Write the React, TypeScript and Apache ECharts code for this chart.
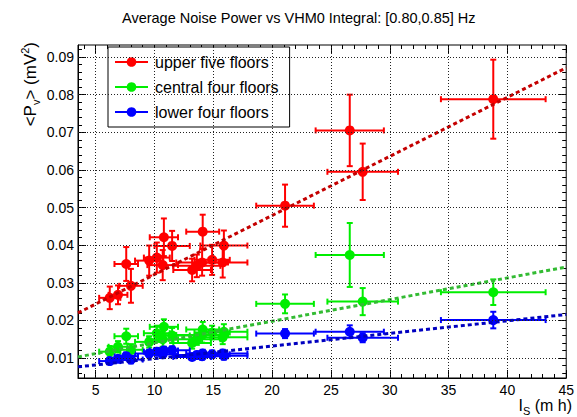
import React, { useEffect, useRef } from "react";
import * as echarts from "echarts";

// Shared I_s values (m h) and their half-widths
const isValues = [6.2, 6.9, 8.0, 7.6, 9.55, 10.2, 10.7, 10.8, 11.5, 13.2, 13.6, 14.05, 14.1, 14.9, 15.8, 15.9, 21.1, 26.6, 27.7, 38.8];
const isErrors = [0.9, 0.8, 1.0, 1.0, 1.2, 1.1, 1.3, 1.2, 1.5, 1.6, 2.0, 2.2, 1.4, 1.5, 2.1, 2.0, 2.45, 2.9, 3.0, 4.45];

const upperValues = [0.026, 0.0268, 0.0292, 0.035, 0.0359, 0.0367, 0.0347, 0.0421, 0.0398, 0.0334, 0.0345, 0.0354, 0.0436, 0.0361, 0.0354, 0.0399, 0.0505, 0.0705, 0.0595, 0.0788];
const upperErrors = [0.003, 0.0025, 0.0045, 0.0045, 0.004, 0.004, 0.004, 0.005, 0.004, 0.003, 0.003, 0.0035, 0.0045, 0.004, 0.004, 0.004, 0.0056, 0.0095, 0.0075, 0.0105];

const centralValues = [0.0117, 0.013, 0.0122, 0.0158, 0.0143, 0.0166, 0.015, 0.0183, 0.016, 0.014, 0.015, 0.0161, 0.0176, 0.0168, 0.0155, 0.017, 0.0244, 0.0374, 0.025, 0.0275];
const centralErrors = [0.0015, 0.0015, 0.0015, 0.002, 0.0015, 0.002, 0.002, 0.002, 0.002, 0.0015, 0.0015, 0.002, 0.002, 0.0018, 0.0018, 0.002, 0.0025, 0.0085, 0.0036, 0.0034];

const lowerValues = [0.0092, 0.0098, 0.0096, 0.0105, 0.0112, 0.0117, 0.011, 0.012, 0.0121, 0.0103, 0.0108, 0.0105, 0.0112, 0.011, 0.0112, 0.0106, 0.0165, 0.017, 0.0154, 0.0201];
const lowerErrors = [0.0008, 0.0008, 0.001, 0.001, 0.001, 0.001, 0.001, 0.001, 0.001, 0.0008, 0.0009, 0.0009, 0.001, 0.001, 0.001, 0.001, 0.0012, 0.0017, 0.0012, 0.0022];

// Linear fits: y = intercept + slope * x
const fitNames = ["upper fit", "central fit", "lower fit"];
const fitIntercepts = [0.0165, 0.0083, 0.0065];
const fitSlopes = [0.00157, 0.000575, 0.000335];

const seriesNames = ["upper five floors", "central four floors", "lower four floors"];

const xMajorTicks = [5, 10, 15, 20, 25, 30, 35, 40, 45];
const xMinorTicks = [4, 6, 7, 8, 9, 11, 12, 13, 14, 16, 17, 18, 19, 21, 22, 23, 24, 26, 27, 28, 29, 31, 32, 33, 34, 36, 37, 38, 39, 41, 42, 43, 44];
const yMajorTicks = [0.01, 0.02, 0.03, 0.04, 0.05, 0.06, 0.07, 0.08, 0.09];
const yMinorTicks = [0.006, 0.008, 0.012, 0.014, 0.016, 0.018, 0.022, 0.024, 0.026, 0.028, 0.032, 0.034, 0.036, 0.038, 0.042, 0.044, 0.046, 0.048, 0.052, 0.054, 0.056, 0.058, 0.062, 0.064, 0.066, 0.068, 0.072, 0.074, 0.076, 0.078, 0.082, 0.084, 0.086, 0.088, 0.092];

const X_MIN = 3.5;
const X_MAX = 45;
const Y_MIN = 0.0047;
const Y_MAX = 0.0932;

const markerColors = ["#ff0000", "#00ee00", "#0000ff"];
const fitColors = ["#c40000", "#33bb33", "#0000c0"];
const FONT = "Liberation Sans, Arial, Helvetica, sans-serif";

function errRender(color: string) {
  return (params: any, api: any) => {
    const x = api.value(0);
    const y = api.value(1);
    const ex = api.value(2);
    const ey = api.value(3);
    const l = api.coord([x - ex, y]);
    const r = api.coord([x + ex, y]);
    const b = api.coord([x, y - ey]);
    const t = api.coord([x, y + ey]);
    const c = 3;
    const style = { stroke: color, lineWidth: 2 };
    const mk = (x1: number, y1: number, x2: number, y2: number) => ({
      type: "line",
      shape: { x1, y1, x2, y2 },
      style,
    });
    return {
      type: "group",
      children: [
        mk(l[0], l[1], r[0], r[1]),
        mk(b[0], b[1], t[0], t[1]),
        mk(l[0], l[1] - c, l[0], l[1] + c),
        mk(r[0], r[1] - c, r[0], r[1] + c),
        mk(b[0] - c, b[1], b[0] + c, b[1]),
        mk(t[0] - c, t[1], t[0] + c, t[1]),
      ],
    };
  };
}

export default function App() {
  const ref = useRef<HTMLDivElement>(null);

  useEffect(() => {
    if (!ref.current) return;
    const chart = echarts.init(ref.current, null, { renderer: "svg" });

    const groups = [
      { y: upperValues, e: upperErrors },
      { y: centralValues, e: centralErrors },
      { y: lowerValues, e: lowerErrors },
    ];

    const series: any[] = [];

    // grid lines through the axis scales
    series.push({
      type: "line",
      name: "grid",
      data: [],
      z: 0,
      silent: true,
      markLine: {
        silent: true,
        symbol: "none",
        label: { show: false },
        lineStyle: { type: [1, 2], color: "#222", width: 1 },
        data: [
          ...xMajorTicks.filter((v) => v < X_MAX).map((v) => ({ xAxis: v })),
          ...yMajorTicks.map((v) => ({ yAxis: v })),
        ],
      },
    });

    groups.forEach((g, i) => {
      series.push({
        type: "custom",
        name: seriesNames[i] + " err",
        renderItem: errRender(markerColors[i]),
        encode: { x: 0, y: 1 },
        data: isValues.map((x, k) => [x, g.y[k], isErrors[k], g.e[k]]),
        z: 2,
        clip: true,
      });
    });

    groups.forEach((g, i) => {
      series.push({
        type: "line",
        name: seriesNames[i],
        data: isValues.map((x, k) => [x, g.y[k]]),
        symbol: "circle",
        symbolSize: 10,
        showSymbol: true,
        lineStyle: { width: 0 },
        itemStyle: { color: markerColors[i] },
        color: markerColors[i],
        z: 3,
      });
    });

    fitIntercepts.forEach((a, i) => {
      series.push({
        type: "line",
        name: fitNames[i],
        data: [
          [X_MIN, a + fitSlopes[i] * X_MIN],
          [X_MAX, a + fitSlopes[i] * X_MAX],
        ],
        symbol: "none",
        lineStyle: { color: fitColors[i], width: 3, type: [4, 3] },
        z: 4,
      });
    });

    const xBase = {
      type: "value",
      min: X_MIN,
      max: X_MAX,
      splitLine: { show: false },
    };
    const yBase = {
      type: "value",
      min: Y_MIN,
      max: Y_MAX,
      splitLine: { show: false },
    };

    chart.setOption({
      animation: false,
      backgroundColor: "#ffffff",
      title: {
        text: "Average Noise Power vs VHM0 Integral: [0.80,0.85] Hz",
        left: 117,
        top: 5,
        textStyle: { fontFamily: FONT, fontSize: 14.5, fontWeight: "normal", color: "#000" },
      },
      legend: {
        data: seriesNames,
        orient: "vertical",
        left: 108,
        top: 47,
        padding: [7, 11, 7, 6],
        itemWidth: 33,
        itemHeight: 12,
        itemGap: 9,
        backgroundColor: "#ffffff",
        borderColor: "#000",
        borderWidth: 1,
        lineStyle: { width: 2 },
        textStyle: { fontFamily: FONT, fontSize: 16, color: "#000", padding: [0, 0, 0, 2] },
      },
      grid: {
        left: 78,
        right: 5,
        top: 45,
        bottom: 39,
        show: true,
        borderColor: "#000",
        borderWidth: 1,
        backgroundColor: "transparent",
      },
      xAxis: [
        {
          ...xBase,
          position: "bottom",
          axisLine: { show: true, lineStyle: { color: "#000", width: 1 } },
          axisTick: { show: true, inside: true, length: 8, customValues: xMajorTicks, lineStyle: { color: "#000" } },
          axisLabel: {
            customValues: xMajorTicks,
            fontFamily: FONT,
            fontSize: 14,
            color: "#000",
            margin: 5,
            showMaxLabel: true,
            hideOverlap: false,
          },
        },
        {
          ...xBase,
          position: "bottom",
          axisLine: { show: false },
          axisTick: { show: true, inside: true, length: 4, customValues: xMinorTicks, lineStyle: { color: "#000" } },
          axisLabel: { show: false },
        },
        {
          ...xBase,
          position: "top",
          axisLine: { show: false },
          axisTick: { show: true, inside: true, length: 8, customValues: xMajorTicks, lineStyle: { color: "#000" } },
          axisLabel: { show: false },
        },
        {
          ...xBase,
          position: "top",
          axisLine: { show: false },
          axisTick: { show: true, inside: true, length: 4, customValues: xMinorTicks, lineStyle: { color: "#000" } },
          axisLabel: { show: false },
        },
      ],
      yAxis: [
        {
          ...yBase,
          position: "left",
          axisLine: { show: true, lineStyle: { color: "#000", width: 1 } },
          axisTick: { show: true, inside: true, length: 8, customValues: yMajorTicks, lineStyle: { color: "#000" } },
          axisLabel: {
            customValues: yMajorTicks,
            formatter: (v: number) => v.toFixed(2),
            fontFamily: FONT,
            fontSize: 14,
            color: "#000",
            margin: 4,
          },
        },
        {
          ...yBase,
          position: "left",
          axisLine: { show: false },
          axisTick: { show: true, inside: true, length: 4, customValues: yMinorTicks, lineStyle: { color: "#000" } },
          axisLabel: { show: false },
        },
        {
          ...yBase,
          position: "right",
          axisLine: { show: false },
          axisTick: { show: true, inside: true, length: 8, customValues: yMajorTicks, lineStyle: { color: "#000" } },
          axisLabel: { show: false },
        },
        {
          ...yBase,
          position: "right",
          axisLine: { show: false },
          axisTick: { show: true, inside: true, length: 4, customValues: yMinorTicks, lineStyle: { color: "#000" } },
          axisLabel: { show: false },
        },
      ],
      graphic: [
        {
          type: "text",
          x: 30,
          y: 42,
          rotation: Math.PI / 2,
          style: {
            text: "<P{sub|v}> (mV{sup|2})",
            fontFamily: FONT,
            fontSize: 17,
            fill: "#000",
            align: "right",
            verticalAlign: "middle",
            rich: {
              sub: { fontFamily: FONT, fontSize: 11, padding: [11, 0, 0, 0], fill: "#000" },
              sup: { fontFamily: FONT, fontSize: 11, padding: [0, 0, 10, 0], fill: "#000" },
            },
          },
        },
        {
          type: "text",
          x: 572,
          y: 405,
          style: {
            text: "I{sub|S} (m h)",
            fontFamily: FONT,
            fontSize: 16,
            fill: "#000",
            align: "right",
            verticalAlign: "middle",
            rich: {
              sub: { fontFamily: FONT, fontSize: 11, padding: [11, 0, 0, 0], fill: "#000" },
            },
          },
        },
      ],
      series,
    });

    return () => chart.dispose();
  }, []);

  return (
    <div
      ref={ref}
      style={{ position: "absolute", left: 0, top: 0, width: 577, height: 417, background: "#fff" }}
    />
  );
}
